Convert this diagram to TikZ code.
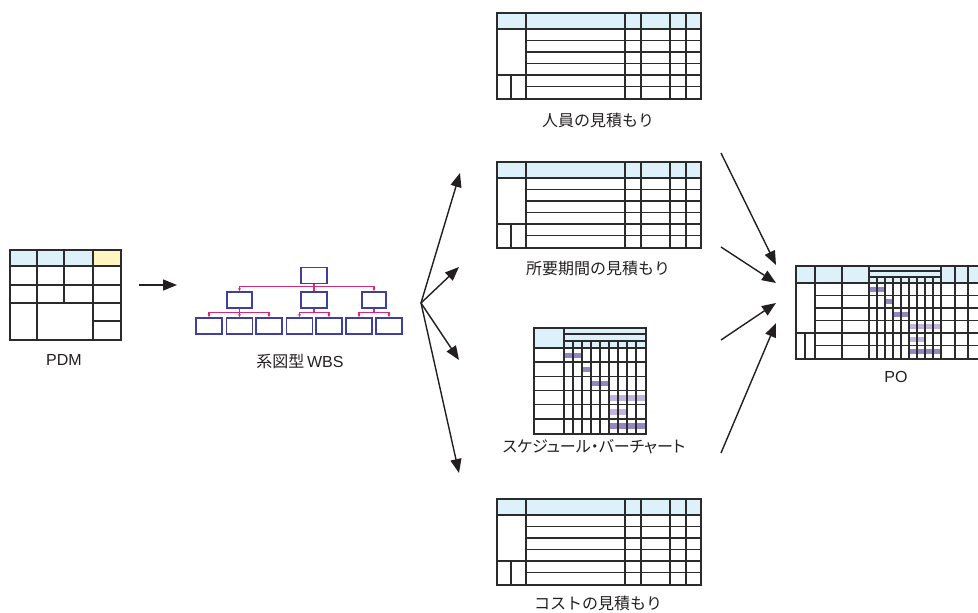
\documentclass[tikz,border=0pt]{standalone}
\usepackage{fontspec}
\setmainfont{Liberation Sans}
\newfontfamily\jp{Noto Sans CJK JP}
\newfontfamily\jpp[RawFeature=+palt]{Noto Sans CJK JP}
\usetikzlibrary{arrows.meta}
\definecolor{hdrblue}{HTML}{DDF1FB}
\definecolor{hdryellow}{HTML}{FFF6C0}
\definecolor{tline}{HTML}{2B2B2B}
\definecolor{wbsbox}{HTML}{3F3F9E}
\definecolor{wbslink}{HTML}{D42A7C}
\definecolor{bardark}{HTML}{9486C0}
\definecolor{barlight}{HTML}{BFB5DF}
\definecolor{txt}{HTML}{231F20}
\tikzset{
  grid/.style={draw=tline, line width=1.6pt},
  frame/.style={draw=tline, line width=1.6pt, inner sep=0pt, anchor=north west},
  wbs/.style={draw=wbsbox, line width=1.2pt, minimum width=26pt, minimum height=16pt, inner sep=0pt},
  link/.style={draw=wbslink, line width=1.1pt},
  linkarr/.style={link, -{Latex[length=3pt,width=3pt]}},
  arr/.style={draw=txt, line width=1.4pt, -{Triangle[length=14pt,width=11pt]}},
  lbl/.style={text=txt, font=\jp\fontsize{16}{19}\selectfont, inner sep=0pt},
  lbllat/.style={text=txt, font=\fontsize{16}{19}\selectfont, inner sep=0pt},
}
\newcommand\esttable[2]{%
\begin{scope}[shift={(496,#2)}]
  \fill[hdrblue] (0,0) rectangle (204,17);
  \node[frame, minimum width=204pt, minimum height=86pt] (#1) at (0,0) {};
  \draw[grid] (0,17) -- (204,17);
  \foreach \yy in {28.5,40,51.5,74.5} \draw[grid] (30,\yy) -- (204,\yy);
  \draw[grid] (0,63) -- (204,63);
  \draw[grid] (15,63) -- (15,86);
  \foreach \xx in {30,129,145,174,190} \draw[grid] (\xx,0) -- (\xx,86);
\end{scope}}
\begin{document}
\begin{tikzpicture}[x=1pt,y=-1pt]
\path[use as bounding box] (0,0) rectangle (978,613);
\clip (0,0) rectangle (978,613);

% ---------------- PDM ----------------
\fill[hdrblue] (9,249) rectangle (93,266);
\fill[hdryellow] (93,249) rectangle (120,266);
\node[frame, minimum width=111pt, minimum height=90pt] (pdm) at (9,249) {};
\draw[grid] (9,266) -- (120,266);
\draw[grid] (9,285) -- (120,285);
\draw[grid] (9,303) -- (120,303);
\draw[grid] (93,321) -- (120,321);
\draw[grid] (37,249) -- (37,339);
\draw[grid] (64,249) -- (64,303);
\draw[grid] (93,249) -- (93,339);
\node[lbllat] (pdmlbl) at (64,360) {PDM};

% ---------------- WBS ----------------
\node[wbs] (r) at (314,275.5) {};
\node[wbs, minimum width=25pt] (m1) at (239.5,300) {};
\node[wbs] (m2) at (314,300) {};
\node[wbs, minimum width=24pt] (m3) at (374,300) {};
\foreach \n/\xx in {b1/209,b2/239.5,b3/269,b4/299.5,b5/329,b6/359,b7/389}
  \node[wbs] (\n) at (\xx,326) {};
\draw[link] (r.south) -- (m2.north);
\draw[link] ([yshift=5pt]m1.north) -- ([yshift=5pt]m3.north);
\draw[linkarr] ([yshift=5pt]m1.north) -- (m1.north);
\draw[linkarr] ([yshift=5pt]m3.north) -- (m3.north);
\draw[link] (m1.south) -- ([yshift=5pt]b2.north);
\draw[link] ([yshift=5pt]b1.north) -- ([yshift=5pt]b3.north);
\draw[link] (m2.south) -- ([yshift=5pt]m2.south |- b4.north);
\draw[link] ([yshift=5pt]b4.north) -- ([yshift=5pt]b5.north);
\draw[link] (m3.south) -- ([yshift=5pt]m3.south |- b6.north);
\draw[link] ([yshift=5pt]b6.north) -- ([yshift=5pt]b7.north);
\foreach \n in {b1,b2,b3,b4,b5,b6,b7}
  \draw[linkarr] ([yshift=5pt]\n.north) -- (\n.north);
\node[lbl] (wbslbl) at (300,361) {系図型\,{\fontspec{Liberation Sans}WBS}};

% ---------------- estimation tables ----------------
\esttable{staff}{12}
\node[lbl] (stafflbl) at (598,120) {人員の見積もり};
\esttable{dur}{161}
\node[lbl] (durlbl) at (598,268) {所要期間の見積もり};
\esttable{cost}{498}
\node[lbl] (costlbl) at (598,603) {コストの見積もり};

% ---------------- bar chart ----------------
\fill[hdrblue] (533,327) rectangle (645,348);
\foreach \r/\a/\b/\c in {0/0/2/bardark,1/2/3/bardark,2/3/5/bardark,3/5/9/barlight,4/5/7/barlight,5/5/9/bardark}
  \fill[\c] ({564+9*\a},{348+14.1667*\r+4.5}) rectangle ({564+9*\b},{348+14.1667*\r+10});
\node[frame, minimum width=112pt, minimum height=106pt] (gantt) at (533,327) {};
\draw[grid] (564,334) -- (645,334);
\draw[grid] (564,341) -- (645,341);
\draw[grid] (533,348) -- (645,348);
\foreach \k in {1,...,5} \draw[grid] (533,{348+14.1667*\k}) -- (645,{348+14.1667*\k});
\draw[grid] (564,327) -- (564,433);
\foreach \k in {1,...,8} \draw[grid] ({564+9*\k},341) -- ({564+9*\k},433);
\node[lbl, font=\jpp\fontsize{16}{19}\selectfont] (ganttlbl) at (594,447) {スケジュール・バーチャート};

% ---------------- PO ----------------
\fill[hdrblue] (795,265) rectangle (995,283);
\foreach \r/\a/\b/\c in {0/0/2/bardark,1/2/3/bardark,2/3/5/bardark,3/5/9/barlight,4/5/7/barlight,5/5/9/bardark}
  \fill[\c] ({869+8*\a},{283+12.5*\r+3.5}) rectangle ({869+8*\b},{283+12.5*\r+8.5});
\node[frame, minimum width=200pt, minimum height=93pt] (po) at (795,265) {};
\draw[grid] (869,271) -- (941,271);
\draw[grid] (869,277) -- (941,277);
\draw[grid] (795,283) -- (995,283);
\foreach \yy in {295.5,308,320.5,345.5} \draw[grid] (815,\yy) -- (995,\yy);
\draw[grid] (795,333) -- (995,333);
\draw[grid] (805,333) -- (805,358);
\foreach \xx in {815,842,869,941,955,968} \draw[grid] (\xx,265) -- (\xx,358);
\foreach \k in {1,...,8} \draw[grid] ({869+8*\k},277) -- ({869+8*\k},358);
\node[lbllat] (polbl) at (896,377) {PO};

% ---------------- connectors ----------------
\coordinate (a0) at (139,285);
\coordinate (a1) at (177,285);
\draw[arr] (a0) -- (a1);
\coordinate (fan) at (421,303);
\coordinate (f1) at (460,173);
\coordinate (f2) at (459,267);
\coordinate (f3) at (459,360);
\coordinate (f4) at (459,473);
\foreach \t in {f1,f2,f3,f4} \draw[arr] (fan) -- (\t);
\coordinate (s1) at (721,153);  \coordinate (e1) at (776,265);
\coordinate (s2) at (721,247);  \coordinate (e2) at (776,283);
\coordinate (s3) at (721,340);  \coordinate (e3) at (776,303);
\coordinate (s4) at (721,453);  \coordinate (e4) at (776,323);
\foreach \i in {1,2,3,4} \draw[arr] (s\i) -- (e\i);
\end{tikzpicture}
\end{document}
